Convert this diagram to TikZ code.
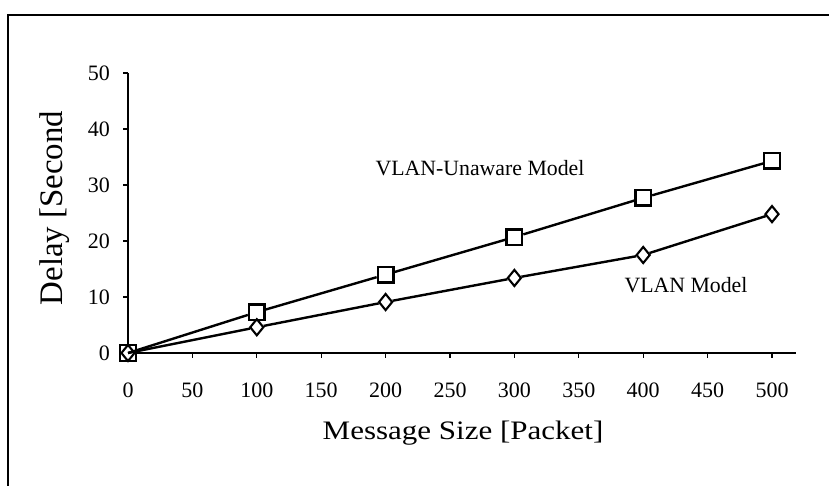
\documentclass[tikz,border=0pt]{standalone}
\usepackage{fontspec}
\setmainfont{Liberation Serif}
\usetikzlibrary{shapes.geometric}

\tikzset{
  frameline/.style={line width=1.6pt},
  axisline/.style={line width=1.5pt},
  tickline/.style={line width=1.2pt},
  dataline/.style={line width=2.4pt},
  sqmark/.style={draw, fill=white, rectangle, minimum size=15.5pt, inner sep=0pt, line width=2.4pt},
  dmmark/.style={draw, fill=white, diamond, minimum width=14pt, minimum height=17pt, inner sep=0pt, line width=2.1pt},
  ticklab/.style={font=\fontsize{22}{22}\selectfont, inner sep=0pt},
  curvelab/.style={font=\fontsize{21.8}{21.8}\selectfont, inner sep=0pt},
  axislab/.style={font=\fontsize{31}{31}\selectfont, inner sep=0pt},
}

\begin{document}
\begin{tikzpicture}[x=1pt, y=-1pt]
  \useasboundingbox (0,0) rectangle (829,486);

  % partial frame round the chart
  \draw[frameline] (8,486) -- (8,15) -- (829,15);

  % axis titles
  \node[axislab, rotate=90, xscale=1.06, yscale=1.06] (ylab) at (55,208) {Delay [Second};
  \node[axislab, yscale=0.86] (xlab) at (463,433) {Message Size [Packet]};

  % curve labels
  \node[curvelab] (lunaware) at (480,168) {VLAN-Unaware Model};
  \node[curvelab] (lvlan) at (686,285) {VLAN Model};

  \begin{scope}[shift={(128,353)}, x=1.288pt, y=5.6pt]
    % axes
    \draw[axisline] (0,50) -- (0,0) -- (519,0);
    % y ticks and labels
    \foreach \d in {0,10,...,50} {
      \draw[tickline] (0,\d) -- ++(-5pt,0);
      \node[ticklab, anchor=east] (yt\d) at ([xshift=-18pt]0,\d) {\d};
    }
    % x ticks and labels
    \foreach \m in {0,50,...,500} {
      \draw[tickline] (\m,0) -- ++(0,-5pt);
      \node[ticklab] (xt\m) at ([yshift=-37pt]\m,0) {\m};
    }

    % markers: VLAN-Unaware model (squares)
    \node[sqmark] (u0) at (0,0) {};
    \node[sqmark] (u1) at (100,7.3) {};
    \node[sqmark] (u2) at (200,14) {};
    \node[sqmark] (u3) at (300,20.7) {};
    \node[sqmark] (u4) at (400,27.7) {};
    \node[sqmark] (u5) at (500,34.3) {};

    % markers: VLAN model (diamonds)
    \node[dmmark] (v0) at (0,0) {};
    \node[dmmark] (v1) at (100,4.6) {};
    \node[dmmark] (v2) at (200,9.1) {};
    \node[dmmark] (v3) at (300,13.4) {};
    \node[dmmark] (v4) at (400,17.5) {};
    \node[dmmark] (v5) at (500,24.8) {};

    % curves
    \draw[dataline] (u0.center) -- (u1) -- (u2) -- (u3) -- (u4) -- (u5);
    \draw[dataline] (v0.center) -- (v1) -- (v2) -- (v3) -- (v4) -- (v5);
  \end{scope}
\end{tikzpicture}
\end{document}
